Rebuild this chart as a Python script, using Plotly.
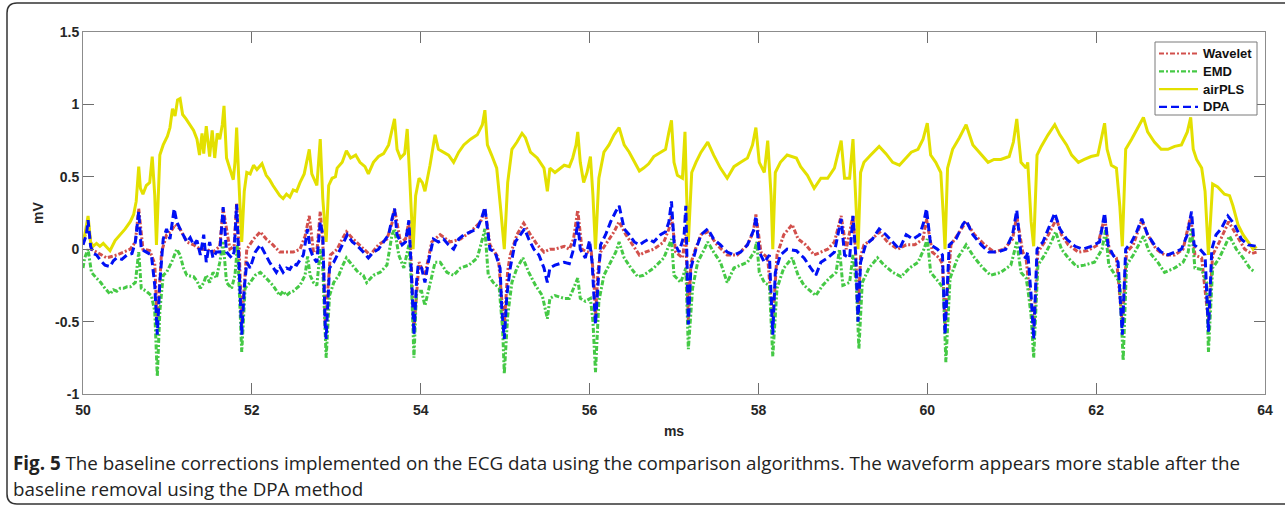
import plotly.graph_objects as go

# ---------------- data: (time in ms, amplitude in mV) ----------------
WAVELET = [
    (50.00, 0.04), (50.06, 0.18), (50.10, 0.00), (50.16, -0.02), (50.22, -0.04), (50.28, -0.06),
    (50.34, -0.05), (50.40, -0.04), (50.48, -0.02), (50.56, 0.00), (50.62, 0.05), (50.66, 0.28),
    (50.71, 0.00), (50.79, -0.01), (50.85, -0.10), (50.88, -0.52), (50.93, -0.02), (50.99, 0.10),
    (51.04, 0.12), (51.09, 0.17), (51.15, 0.14), (51.23, 0.05), (51.31, 0.03), (51.39, 0.00),
    (51.46, 0.00), (51.54, -0.02), (51.62, 0.02), (51.66, 0.28), (51.74, 0.00), (51.79, 0.02),
    (51.82, 0.32), (51.85, 0.00), (51.88, -0.52), (51.94, 0.00), (52.02, 0.07), (52.10, 0.12),
    (52.17, 0.07), (52.25, 0.03), (52.33, -0.02), (52.41, -0.02), (52.49, -0.02), (52.57, 0.00),
    (52.63, 0.09), (52.68, 0.23), (52.73, -0.02),
    (52.77, -0.02), (52.81, 0.26), (52.84, 0.05), (52.87, -0.52), (52.93, -0.04), (53.01, 0.00),
    (53.07, 0.07), (53.12, 0.12), (53.20, 0.07), (53.32, 0.00), (53.40, -0.04), (53.50, 0.03),
    (53.60, 0.07), (53.66, 0.18), (53.69, 0.28), (53.76, 0.05), (53.82, 0.07), (53.86, 0.19),
    (53.88, 0.00), (53.92, -0.55), (53.98, -0.09), (54.05, -0.18), (54.13, 0.05), (54.23, 0.10),
    (54.35, 0.05), (54.47, 0.07), (54.59, 0.12), (54.71, 0.19), (54.76, 0.28), (54.82, 0.03),
    (54.92, -0.06), (54.96, -0.35), (54.99, -0.52), (55.03, -0.15), (55.06, -0.04), (55.14, 0.10),
    (55.22, 0.18), (55.30, 0.10), (55.38, 0.03), (55.46, -0.02), (55.53, 0.00), (55.59, 0.00),
    (55.70, 0.02), (55.76, 0.00), (55.81, 0.07), (55.84, 0.19), (55.86, 0.27), (55.91, 0.00),
    (55.97, -0.02), (56.02, -0.02), (56.05, -0.20), (56.07, -0.46), (56.10, -0.15), (56.13, -0.02),
    (56.21, 0.05), (56.29, 0.12), (56.35, 0.19), (56.43, 0.10), (56.51, 0.03), (56.59, -0.04),
    (56.66, -0.02), (56.76, 0.00), (56.88, 0.05), (56.94, 0.14), (56.97, 0.23), (57.02, -0.02),
    (57.10, -0.06), (57.14, 0.10), (57.17, -0.50), (57.20, -0.10), (57.24, -0.02), (57.32, 0.10),
    (57.40, 0.12), (57.51, 0.03), (57.63, -0.04), (57.75, -0.04), (57.87, 0.03), (57.94, 0.12),
    (57.97, 0.24), (58.03, -0.02), (58.11, -0.06), (58.17, -0.50), (58.22, -0.04), (58.30, 0.10),
    (58.40, 0.17),
    (58.47, 0.07), (58.56, 0.03), (58.66, -0.04), (58.74, -0.02), (58.82, 0.00), (58.90, 0.05),
    (58.98, 0.23), (59.04, 0.00), (59.12, 0.23), (59.15, 0.00), (59.18, -0.46), (59.21, -0.05),
    (59.25, 0.03), (59.35, 0.07), (59.43, 0.12), (59.53, 0.05), (59.65, 0.00), (59.75, 0.03),
    (59.85, 0.03), (59.95, 0.07), (59.99, 0.21), (60.06, -0.02), (60.14, -0.06), (60.18, -0.10),
    (60.21, -0.52), (60.28, 0.03), (60.36, 0.10), (60.46, 0.19), (60.56, 0.10), (60.68, 0.03),
    (60.79, -0.02), (60.91, 0.00), (61.01, 0.07), (61.06, 0.23), (61.13, -0.02), (61.17, -0.06),
    (61.19, -0.18), (61.26, -0.55), (61.31, -0.02), (61.39, 0.05), (61.47, 0.14), (61.53, 0.21),
    (61.59, 0.10), (61.67, 0.03), (61.79, -0.02), (61.90, -0.01), (62.02, 0.03), (62.10, 0.22),
    (62.16, -0.02), (62.24, -0.06), (62.31, -0.52), (62.36, -0.02), (62.44, 0.03), (62.54, 0.20),
    (62.61, 0.10), (62.71, 0.00), (62.81, -0.04), (62.93, -0.04), (63.03, 0.00), (63.12, 0.23),
    (63.17, -0.04), (63.25, -0.06), (63.33, -0.50), (63.38, -0.04), (63.46, 0.05), (63.57, 0.19),
    (63.66, 0.10), (63.76, 0.00), (63.84, -0.03), (63.90, -0.02),
]

EMD = [
    (50.00, -0.13), (50.02, -0.06), (50.06, 0.00), (50.10, -0.16), (50.16, -0.20), (50.21, -0.23),
    (50.26, -0.27), (50.32, -0.31), (50.36, -0.28), (50.40, -0.29), (50.44, -0.27), (50.48, -0.27),
    (50.52, -0.26), (50.56, -0.26), (50.62, -0.23), (50.66, -0.02), (50.69, -0.27), (50.75, -0.29),
    (50.81, -0.32), (50.85, -0.43), (50.88, -0.88), (50.91, -0.43), (50.95, -0.18), (50.99, -0.16),
    (51.05, -0.09), (51.11, 0.00), (51.15, -0.04), (51.19, -0.13), (51.23, -0.18), (51.31, -0.19),
    (51.35, -0.22), (51.39, -0.27), (51.43, -0.23), (51.46, -0.18), (51.50, -0.23), (51.54, -0.16),
    (51.58, -0.20), (51.62, -0.09), (51.66, 0.05), (51.70, -0.23), (51.76, -0.27), (51.80, -0.18),
    (51.83, 0.03), (51.85, -0.23), (51.88, -0.71), (51.92, -0.27), (51.98, -0.23), (52.04, -0.18),
    (52.10, -0.16), (52.17, -0.20), (52.25, -0.25), (52.33, -0.32), (52.37, -0.29), (52.41, -0.32),
    (52.45, -0.30), (52.49, -0.29), (52.57, -0.25), (52.63, -0.18), (52.66, -0.05), (52.69, -0.18),
    (52.73, -0.23),
    (52.77, -0.25), (52.81, 0.00), (52.84, -0.13), (52.88, -0.75), (52.92, -0.32), (52.97, -0.23),
    (53.03, -0.18), (53.07, -0.12), (53.12, -0.06), (53.19, -0.11), (53.26, -0.16), (53.32, -0.18),
    (53.36, -0.23), (53.44, -0.18), (53.52, -0.16), (53.60, -0.11), (53.66, 0.10), (53.69, 0.14),
    (53.74, -0.04), (53.80, -0.13), (53.86, 0.03), (53.89, -0.23), (53.92, -0.75), (53.95, -0.29),
    (54.01, -0.29), (54.05, -0.39), (54.11, -0.23), (54.17, -0.09), (54.23, -0.09), (54.31, -0.16),
    (54.39, -0.18), (54.47, -0.13), (54.57, -0.11), (54.67, -0.06), (54.73, 0.07), (54.76, 0.14),
    (54.80, -0.18), (54.86, -0.23), (54.93, -0.27), (54.97, -0.55), (54.99, -0.86), (55.03, -0.46),
    (55.08, -0.23), (55.14, -0.13), (55.21, -0.06), (55.28, -0.16), (55.36, -0.25), (55.44, -0.32),
    (55.50, -0.48), (55.53, -0.34), (55.59, -0.32),
    (55.70, -0.34), (55.76, -0.34), (55.82, -0.25), (55.86, -0.20), (55.89, -0.34), (55.95, -0.36),
    (56.01, -0.34), (56.04, -0.50), (56.07, -0.85), (56.11, -0.36), (56.17, -0.18), (56.25, -0.09),
    (56.31, -0.02), (56.35, 0.05), (56.41, -0.06), (56.49, -0.13), (56.57, -0.19), (56.64, -0.18),
    (56.76, -0.13), (56.88, -0.06), (56.94, 0.03), (56.97, 0.07), (57.00, -0.18), (57.08, -0.23),
    (57.14, -0.13), (57.17, -0.69), (57.22, -0.27), (57.28, -0.09), (57.36, 0.00), (57.40, 0.05),
    (57.47, -0.02), (57.55, -0.09), (57.63, -0.23), (57.71, -0.13), (57.79, -0.11), (57.87, -0.09),
    (57.95, -0.02), (57.98, 0.05), (58.01, -0.16), (58.07, -0.23), (58.13, -0.25), (58.17, -0.74),
    (58.22, -0.27), (58.30, -0.13), (58.40, -0.06),
    (58.47, -0.18), (58.54, -0.25), (58.62, -0.29), (58.68, -0.32), (58.76, -0.25), (58.84, -0.20),
    (58.92, -0.16), (58.96, 0.00), (59.00, -0.25), (59.08, -0.23), (59.12, -0.04), (59.16, -0.25),
    (59.19, -0.69), (59.23, -0.23), (59.31, -0.13), (59.41, -0.06), (59.49, -0.11), (59.59, -0.16),
    (59.69, -0.19), (59.79, -0.13), (59.89, -0.09), (59.96, 0.00), (60.00, 0.07), (60.04, -0.16),
    (60.14, -0.23), (60.19, -0.27), (60.22, -0.78), (60.27, -0.20), (60.36, -0.06), (60.46, 0.03),
    (60.56, -0.06), (60.66, -0.13), (60.75, -0.18), (60.87, -0.16), (60.99, -0.11), (61.06, 0.05),
    (61.11, -0.16), (61.17, -0.20),
    (61.19, -0.27), (61.23, -0.46), (61.26, -0.75), (61.31, -0.11), (61.39, -0.04), (61.47, 0.05),
    (61.52, 0.12), (61.59, 0.00), (61.67, -0.06), (61.77, -0.12), (61.86, -0.11), (61.98, -0.09),
    (62.07, 0.00), (62.11, 0.13), (62.15, -0.11), (62.22, -0.18), (62.28, -0.23), (62.32, -0.77),
    (62.36, -0.11), (62.44, -0.04), (62.56, 0.09), (62.63, -0.02), (62.73, -0.09), (62.81, -0.16),
    (62.93, -0.13), (63.03, -0.09), (63.09, -0.02), (63.13, 0.14), (63.17, -0.13), (63.25, -0.14),
    (63.31, -0.23), (63.33, -0.71), (63.38, -0.13), (63.46, -0.06), (63.58, 0.09), (63.66, 0.00),
    (63.74, -0.06), (63.82, -0.13), (63.88, -0.16),
]

AIRPLS = [
    (50.00, 0.03), (50.06, 0.23), (50.09, 0.05), (50.12, 0.02), (50.16, 0.04), (50.20, 0.02),
    (50.24, 0.04), (50.32, -0.01), (50.38, 0.06), (50.44, 0.10), (50.50, 0.14), (50.56, 0.19),
    (50.60, 0.24), (50.63, 0.33), (50.66, 0.57), (50.68, 0.42), (50.71, 0.38), (50.75, 0.44),
    (50.79, 0.46), (50.82, 0.64), (50.85, 0.37), (50.87, 0.03), (50.89, 0.40), (50.91, 0.65),
    (50.95, 0.72), (51.00, 0.78), (51.03, 0.84), (51.06, 0.97), (51.09, 0.92), (51.12, 1.03),
    (51.15, 1.04), (51.18, 0.93), (51.22, 0.90), (51.27, 0.86), (51.31, 0.82), (51.35, 0.76),
    (51.38, 0.65), (51.41, 0.80), (51.43, 0.66), (51.46, 0.85), (51.50, 0.64), (51.53, 0.82),
    (51.56, 0.63), (51.59, 0.80), (51.62, 0.76), (51.65, 0.86), (51.67, 0.99), (51.70, 0.63),
    (51.74, 0.55), (51.78, 0.48), (51.80, 0.60), (51.82, 0.84), (51.84, 0.55), (51.88, 0.05),
    (51.91, 0.40), (51.94, 0.53), (51.98, 0.52), (52.02, 0.58), (52.06, 0.55), (52.12, 0.59),
    (52.17, 0.51), (52.21, 0.48), (52.25, 0.44), (52.29, 0.40), (52.33, 0.37), (52.37, 0.35),
    (52.41, 0.38), (52.45, 0.36), (52.49, 0.41), (52.53, 0.40), (52.57, 0.46), (52.62, 0.52),
    (52.66, 0.62), (52.68, 0.69), (52.71, 0.52),
    (52.77, 0.44), (52.79, 0.60), (52.81, 0.76), (52.84, 0.35), (52.88, 0.05), (52.91, 0.44),
    (52.95, 0.49), (52.99, 0.50), (53.01, 0.56), (53.07, 0.60), (53.12, 0.68), (53.17, 0.63),
    (53.23, 0.65), (53.28, 0.60), (53.34, 0.57), (53.38, 0.52), (53.44, 0.60), (53.50, 0.64),
    (53.56, 0.66), (53.62, 0.72), (53.66, 0.83), (53.69, 0.90), (53.72, 0.69), (53.76, 0.63),
    (53.81, 0.66), (53.84, 0.83), (53.87, 0.49), (53.91, 0.00), (53.94, 0.37), (53.98, 0.49),
    (54.02, 0.46), (54.05, 0.40), (54.11, 0.58), (54.17, 0.79), (54.21, 0.69), (54.27, 0.67),
    (54.33, 0.65), (54.39, 0.60), (54.45, 0.67), (54.51, 0.72), (54.59, 0.76), (54.67, 0.79),
    (54.73, 0.86), (54.76, 0.96), (54.79, 0.72), (54.84, 0.65), (54.90, 0.56), (54.95, 0.26),
    (54.99, 0.00), (55.03, 0.46), (55.08, 0.69), (55.14, 0.74), (55.20, 0.80), (55.24, 0.77),
    (55.30, 0.67), (55.38, 0.63), (55.46, 0.56), (55.50, 0.40), (55.53, 0.56), (55.59, 0.53),
    (55.70, 0.58), (55.76, 0.57), (55.80, 0.63), (55.84, 0.72), (55.86, 0.81), (55.89, 0.60),
    (55.93, 0.46), (55.97, 0.53), (56.01, 0.64), (56.04, 0.37), (56.07, 0.00), (56.11, 0.49),
    (56.17, 0.67), (56.23, 0.72), (56.29, 0.79), (56.35, 0.84), (56.41, 0.72), (56.47, 0.67),
    (56.53, 0.61), (56.59, 0.54), (56.64, 0.56), (56.70, 0.59), (56.76, 0.64), (56.84, 0.67),
    (56.90, 0.69), (56.94, 0.81), (56.97, 0.89), (57.00, 0.60), (57.04, 0.51), (57.10, 0.49),
    (57.13, 0.81), (57.15, 0.37), (57.17, 0.05), (57.21, 0.53), (57.26, 0.60), (57.32, 0.67),
    (57.40, 0.74), (57.47, 0.65), (57.55, 0.56), (57.63, 0.49), (57.71, 0.57), (57.79, 0.60),
    (57.87, 0.63), (57.93, 0.72), (57.97, 0.84), (58.01, 0.60), (58.07, 0.53), (58.11, 0.75),
    (58.15, 0.37), (58.17, 0.00), (58.20, 0.53), (58.26, 0.60), (58.34, 0.65),
    (58.45, 0.63), (58.50, 0.57), (58.58, 0.51), (58.66, 0.42), (58.74, 0.49), (58.82, 0.49),
    (58.90, 0.56), (58.95, 0.69), (58.98, 0.75), (59.02, 0.49), (59.08, 0.49), (59.12, 0.76),
    (59.14, 0.49), (59.18, 0.00), (59.21, 0.53), (59.25, 0.60), (59.33, 0.65), (59.43, 0.71),
    (59.51, 0.66), (59.59, 0.60), (59.67, 0.58), (59.75, 0.63), (59.81, 0.67), (59.89, 0.69),
    (59.95, 0.76), (60.00, 0.87), (60.04, 0.65), (60.10, 0.60), (60.16, 0.53), (60.19, 0.23),
    (60.21, 0.00), (60.24, 0.56), (60.30, 0.69), (60.38, 0.77), (60.46, 0.86), (60.54, 0.72),
    (60.62, 0.67), (60.72, 0.60), (60.79, 0.62), (60.87, 0.62), (60.97, 0.64), (61.02, 0.74),
    (61.06, 0.90), (61.11, 0.60), (61.17, 0.56),
    (61.19, 0.60), (61.23, 0.19), (61.26, 0.02), (61.30, 0.65), (61.35, 0.71), (61.43, 0.79),
    (61.51, 0.86), (61.57, 0.79), (61.65, 0.72), (61.71, 0.65), (61.79, 0.60), (61.86, 0.62),
    (61.94, 0.64), (62.02, 0.65), (62.07, 0.79), (62.10, 0.87), (62.13, 0.69), (62.18, 0.58),
    (62.24, 0.56), (62.28, 0.30), (62.31, 0.02), (62.35, 0.69), (62.42, 0.76), (62.50, 0.84),
    (62.56, 0.91), (62.61, 0.81), (62.69, 0.74), (62.77, 0.69), (62.85, 0.69), (62.93, 0.71),
    (63.01, 0.72), (63.08, 0.81), (63.12, 0.91), (63.15, 0.69), (63.19, 0.62), (63.25, 0.56),
    (63.29, 0.40), (63.33, -0.04), (63.36, 0.30), (63.38, 0.45), (63.44, 0.43), (63.52, 0.38),
    (63.58, 0.37), (63.62, 0.30), (63.68, 0.17), (63.74, 0.10), (63.80, 0.05), (63.86, 0.00),
    (63.90, 0.02),
]

DPA = [
    (50.00, 0.03), (50.04, 0.10), (50.06, 0.20), (50.09, 0.02), (50.12, -0.03), (50.16, -0.04),
    (50.21, -0.08), (50.26, -0.11), (50.32, -0.12), (50.36, -0.08), (50.40, -0.06), (50.46, -0.07),
    (50.52, -0.04), (50.58, -0.03), (50.62, 0.05), (50.66, 0.26), (50.69, 0.00), (50.75, -0.02),
    (50.81, -0.04), (50.85, -0.25), (50.88, -0.59), (50.91, -0.23), (50.95, 0.07), (50.99, 0.14),
    (51.03, 0.07), (51.08, 0.28), (51.11, 0.19), (51.15, 0.14), (51.19, 0.10), (51.23, 0.05),
    (51.27, 0.08), (51.31, 0.03), (51.35, 0.06), (51.39, -0.04), (51.43, 0.10), (51.46, -0.09),
    (51.50, 0.05), (51.54, -0.06), (51.58, -0.02), (51.62, -0.02), (51.66, 0.29), (51.70, -0.02),
    (51.76, -0.06), (51.79, -0.02), (51.82, 0.31), (51.85, -0.09), (51.88, -0.59), (51.91, -0.27),
    (51.94, -0.09), (51.98, -0.13), (52.04, -0.02), (52.10, 0.03), (52.16, -0.04), (52.21, -0.09),
    (52.29, -0.16), (52.33, -0.12), (52.37, -0.16), (52.41, -0.13), (52.45, -0.14), (52.49, -0.10),
    (52.53, -0.11), (52.61, -0.04), (52.66, 0.14), (52.69, 0.00), (52.73, -0.06),
    (52.77, -0.09), (52.81, 0.19), (52.84, 0.10), (52.87, -0.55), (52.88, -0.62), (52.92, -0.13),
    (52.97, -0.09), (53.03, -0.02), (53.09, 0.05), (53.13, 0.10), (53.19, 0.05), (53.24, 0.03),
    (53.32, -0.02), (53.38, -0.06), (53.44, -0.02), (53.50, 0.00), (53.56, 0.05), (53.62, 0.10),
    (53.66, 0.21), (53.69, 0.28), (53.72, 0.10), (53.78, 0.03), (53.82, 0.05), (53.86, 0.20),
    (53.88, -0.04), (53.92, -0.59), (53.95, -0.23), (53.97, -0.11), (54.01, -0.13), (54.05, -0.23),
    (54.09, -0.09), (54.15, 0.07), (54.21, 0.05), (54.27, 0.07), (54.33, 0.03), (54.39, 0.00),
    (54.45, 0.07), (54.51, 0.10), (54.59, 0.12), (54.67, 0.14), (54.73, 0.23), (54.76, 0.29),
    (54.78, 0.19), (54.82, 0.00), (54.88, -0.02), (54.94, -0.13), (54.96, -0.41), (54.99, -0.62),
    (55.02, -0.32), (55.06, -0.13), (55.12, 0.05), (55.18, 0.10), (55.23, 0.14), (55.28, 0.07),
    (55.34, 0.00), (55.40, -0.04), (55.46, -0.13), (55.50, -0.23), (55.53, -0.13), (55.59, -0.11),
    (55.70, -0.09), (55.76, -0.10), (55.80, -0.02), (55.84, 0.10), (55.86, 0.19), (55.89, 0.00),
    (55.95, -0.06), (56.00, 0.06), (56.03, -0.09), (56.07, -0.52), (56.10, -0.25), (56.13, 0.03),
    (56.19, 0.10), (56.25, 0.19), (56.31, 0.26), (56.35, 0.30), (56.41, 0.14), (56.47, 0.10),
    (56.53, 0.05), (56.59, 0.03), (56.64, 0.05), (56.70, 0.07), (56.76, 0.05), (56.84, 0.10),
    (56.90, 0.12), (56.94, 0.19), (56.97, 0.33), (57.00, 0.05), (57.06, -0.02), (57.12, 0.10),
    (57.14, 0.30), (57.17, -0.52), (57.20, -0.13), (57.26, 0.00), (57.32, 0.10), (57.40, 0.14),
    (57.47, 0.07), (57.55, 0.03), (57.63, -0.02), (57.71, -0.04), (57.79, -0.02), (57.87, 0.03),
    (57.95, 0.14), (57.97, 0.23), (58.01, -0.02), (58.07, -0.09), (58.13, -0.04), (58.17, -0.59),
    (58.20, -0.16), (58.26, -0.04), (58.34, 0.00),
    (58.45, -0.01), (58.50, -0.04), (58.54, -0.06), (58.62, -0.13), (58.68, -0.18), (58.74, -0.09),
    (58.82, -0.06), (58.90, -0.02), (58.96, 0.17), (58.98, 0.21), (59.02, -0.04), (59.08, -0.06),
    (59.12, 0.23), (59.15, -0.02), (59.18, -0.50), (59.21, -0.09), (59.27, 0.03), (59.35, 0.07),
    (59.43, 0.14), (59.51, 0.10), (59.59, 0.05), (59.67, 0.00), (59.75, 0.10), (59.83, 0.07),
    (59.91, 0.10), (59.96, 0.19), (59.99, 0.28), (60.04, 0.03), (60.12, 0.00), (60.18, -0.04),
    (60.21, -0.59), (60.26, 0.03), (60.34, 0.07), (60.42, 0.17), (60.46, 0.20), (60.54, 0.10),
    (60.64, 0.03), (60.73, -0.02), (60.83, -0.02), (60.93, 0.00), (61.01, 0.10), (61.06, 0.27),
    (61.11, -0.04), (61.17, -0.06),
    (61.19, -0.02), (61.23, -0.32), (61.26, -0.62), (61.30, 0.00), (61.37, 0.05), (61.45, 0.17),
    (61.51, 0.25), (61.57, 0.14), (61.65, 0.07), (61.75, 0.02), (61.84, 0.00), (61.94, 0.02),
    (62.04, 0.05), (62.10, 0.25), (62.14, 0.03), (62.20, -0.04), (62.26, -0.09), (62.31, -0.59),
    (62.35, 0.00), (62.42, 0.05), (62.48, 0.12), (62.54, 0.21), (62.61, 0.10), (62.69, 0.03),
    (62.77, -0.02), (62.85, -0.04), (62.93, -0.02), (63.01, 0.00), (63.08, 0.10), (63.13, 0.26),
    (63.16, 0.03), (63.23, 0.00), (63.29, -0.04), (63.33, -0.57), (63.37, 0.00), (63.42, 0.10),
    (63.48, 0.14), (63.56, 0.23), (63.64, 0.17), (63.72, 0.07), (63.80, 0.03), (63.90, 0.02),
]

X_TICKS = [50, 52, 54, 56, 58, 60, 62, 64]
Y_TICKS = [-1, -0.5, 0, 0.5, 1, 1.5]
Y_TICK_TEXT = ["-1", "-0.5", "0", "0.5", "1", "1.5"]

SERIES = [
    ("Wavelet", WAVELET, "#D2504C", "5px,2px,2px,2px"),
    ("EMD", EMD, "#45C945", "5px,2px,2px,2px"),
    ("airPLS", AIRPLS, "#E3E000", "solid"),
    ("DPA", DPA, "#0010F5", "8px,4px"),
]

CAPTION_1 = "<b>Fig. 5</b> The baseline corrections implemented on the ECG data using the comparison algorithms. The waveform appears more stable after the"
CAPTION_2 = "baseline removal using the DPA method"

# ---------------- layout geometry (pixels) ----------------
W, H = 1285, 508
ML, MR, MT, MB = 83, 20, 32, 114
PW, PH = W - ML - MR, H - MT - MB


def px(x):
    return (x - ML) / PW


def py(y):
    return (H - MB - y) / PH


fig = go.Figure()
for name, pts, color, dash in SERIES:
    t = [p[0] for p in pts]
    v = [p[1] for p in pts]
    fig.add_trace(go.Scatter(x=t, y=v, mode="lines", name=name, showlegend=False,
                             line=dict(color=color, width=3, dash=dash)))

LABEL_FONT = dict(family="Liberation Sans, Arial, sans-serif", size=14, color="#262626", weight="bold")

axis_common = dict(
    showgrid=False, zeroline=False, showline=True, linecolor="#8c8c8c", linewidth=1,
    mirror="ticks", ticks="inside", ticklen=11, tickcolor="#6e6e6e", tickwidth=1,
    tickfont=LABEL_FONT,
)

fig.update_layout(
    width=W, height=H,
    margin=dict(l=ML, r=MR, t=MT, b=MB),
    paper_bgcolor="white", plot_bgcolor="white",
    xaxis=dict(range=[50, 64], tickvals=X_TICKS, ticklabelstandoff=3,
               title=dict(text="ms", standoff=9, font=LABEL_FONT),
               **axis_common),
    yaxis=dict(range=[-1, 1.5], tickvals=Y_TICKS, ticktext=Y_TICK_TEXT,
               title=dict(text="mV", standoff=8, font=LABEL_FONT),
               **axis_common),
    showlegend=False,
)

# legend box (drawn to match the MATLAB-style legend geometry)
fig.add_shape(type="rect", xref="paper", yref="paper",
              x0=px(1155), x1=px(1257), y0=py(115), y1=py(42),
              fillcolor="white", line=dict(color="#7a7a7a", width=1))
legend_font = dict(family="Liberation Sans, Arial, sans-serif", size=13, color="#111111", weight="bold")
for i, (name, _, color, dash) in enumerate(SERIES):
    yy = 53.5 + 17.8 * i
    fig.add_shape(type="line", xref="paper", yref="paper",
                  x0=px(1159), x1=px(1198), y0=py(yy), y1=py(yy),
                  line=dict(color=color, width=2.2, dash=dash))
    fig.add_annotation(x=px(1201), y=py(yy), xref="paper", yref="paper", text=name,
                       showarrow=False, xanchor="left", yanchor="middle", font=legend_font)

# caption
cap_font = dict(family="Open Sans, Noto Sans, sans-serif", size=18.8, color="#222222")
fig.add_annotation(x=px(11), y=py(463), xref="paper", yref="paper", text=CAPTION_1,
                   showarrow=False, xanchor="left", yanchor="middle", font=cap_font)
fig.add_annotation(x=px(11), y=py(489), xref="paper", yref="paper", text=CAPTION_2,
                   showarrow=False, xanchor="left", yanchor="middle", font=cap_font)

# rounded outer frame
r = 10
path = (f"M {px(1300)},{py(3)} L {px(7 + r)},{py(3)} Q {px(7)},{py(3)} {px(7)},{py(3 + r)} "
        f"L {px(7)},{py(504 - r)} Q {px(7)},{py(504)} {px(7 + r)},{py(504)} L {px(1300)},{py(504)}")
fig.add_shape(type="path", path=path, xref="paper", yref="paper",
              line=dict(color="#333333", width=1.5))

fig.write_html("out.html")
